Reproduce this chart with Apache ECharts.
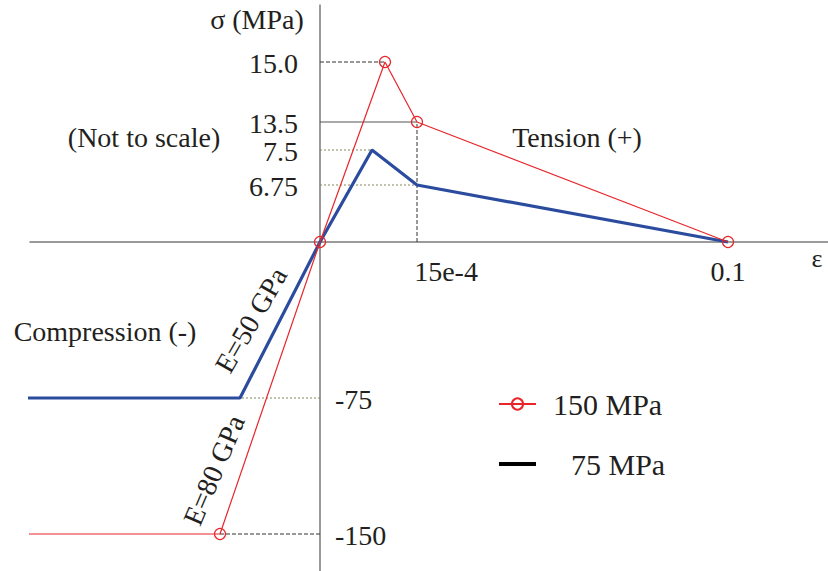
<!DOCTYPE html>
<html>
<head>
<meta charset="utf-8">
<script src="https://cdn.jsdelivr.net/npm/echarts@6/dist/echarts.min.js"></script>
<style>
  html, body { margin: 0; padding: 0; background: #ffffff; }
  #chart { width: 828px; height: 571px; }
</style>
</head>
<body>
<div id="chart"></div>
<script>
// Stress-strain curves (strain, stress in MPa) for two concrete grades
const seriesNames = ['150 MPa', '75 MPa'];
const strain150 = [-0.0035, -1.875e-3, 0, 1.875e-4, 1.5e-3, 0.1];
const stress150 = [-150, -150, 0, 15.0, 13.5, 0];
const strain75 = [-0.0035, -1.5e-3, 0, 1.5e-4, 1.5e-3, 0.1];
const stress75 = [-75, -75, 0, 7.5, 6.75, 0];

// Tick labels
const stressTicks = [15.0, 13.5, 7.5, 6.75, -75, -150];
const stressTickText = ['15.0', '13.5', '7.5', '6.75', '-75', '-150'];
const strainTicks = [15e-4, 0.1];
const strainTickText = ['15e-4', '0.1'];

// The diagram is drawn "not to scale": each axis is a piecewise-linear
// schematic scale defined by breakpoints [real value, schematic unit].
const strainBreaks = [[-0.0035, -297], [-1.875e-3, -100], [0, 0], [1.875e-4, 65], [1.5e-3, 97], [0.1, 408]];
const stressBreaks = [[-150, -292], [-75, -156], [0, 0], [6.75, 57], [7.5, 92], [13.5, 120], [15, 180]];

function schematic(v, breaks) {
  let i = 0;
  while (i < breaks.length - 2 && v > breaks[i + 1][0]) i++;
  const [v0, u0] = breaks[i];
  const [v1, u1] = breaks[i + 1];
  return u0 + (v - v0) * (u1 - u0) / (v1 - v0);
}
const sx = v => schematic(v, strainBreaks);
const sy = v => schematic(v, stressBreaks);
const pt = (e, s) => [sx(e), sy(s)];

const FONT = "'Liberation Serif', 'Times New Roman', serif";
const INK = '#231f20';
const RED = '#e8262a';
const BLUE = '#2b4c9e';

const redData = strain150.map((e, i) => {
  const item = { value: pt(e, stress150[i]) };
  if (i === 0) item.symbol = 'none';
  return item;
});
const blueData = strain75.map((e, i) => pt(e, stress75[i]));

// Dashed reference lines from the stress axis to the key points
const dotted = { color: '#85855c', width: 1, type: [2, 2] };
const darkDash = { color: '#333333', width: 1, type: [4, 2] };
const solidGray = { color: '#555555', width: 1, type: 'solid' };
const guides = [
  { from: [0, stress150[3]], to: [strain150[3], stress150[3]], style: darkDash },
  { from: [0, stress150[4]], to: [strain150[4], stress150[4]], style: solidGray },
  { from: [strain150[4], 0], to: [strain150[4], stress150[4]], style: darkDash },
  { from: [0, stress75[3]], to: [strain75[3], stress75[3]], style: dotted },
  { from: [0, stress75[4]], to: [strain75[4], stress75[4]], style: dotted },
  { from: [0, stress75[1]], to: [strain75[1], stress75[1]], style: dotted },
  { from: [0, stress150[1]], to: [strain150[1], stress150[1]], style: darkDash }
];
const guideSeries = guides.map(g => ({
  type: 'line',
  silent: true,
  symbol: 'none',
  z: 1,
  lineStyle: g.style,
  data: [pt(g.from[0], g.from[1]), pt(g.to[0], g.to[1])]
}));

const tickTextStyle = { fontFamily: FONT, fontSize: 28, color: INK, opacity: 1 };

const stressTickData = stressTicks.map((v, i) => ({
  value: pt(0, v),
  label: Object.assign({
    show: true,
    formatter: stressTickText[i],
    position: v > 0 ? 'left' : 'right',
    distance: v > 0 ? 22 : 15,
    offset: [0, 1]
  }, tickTextStyle)
}));
const strainTickData = strainTicks.map((v, i) => ({
  value: pt(v, 0),
  label: Object.assign({
    show: true,
    formatter: strainTickText[i],
    position: 'bottom',
    distance: 15,
    offset: [i === 0 ? 29 : 0, 0]
  }, tickTextStyle)
}));

const chart = echarts.init(document.getElementById('chart'), null, { renderer: 'svg' });

chart.setOption({
  animation: false,
  backgroundColor: '#ffffff',
  grid: { left: 30, right: 0, top: 5, bottom: 0 },
  xAxis: {
    type: 'value',
    min: -290, max: 508,
    axisLine: { onZero: true, lineStyle: { color: '#7a7a7a', width: 1.5 } },
    axisTick: { show: false },
    axisLabel: { show: false },
    splitLine: { show: false }
  },
  yAxis: {
    type: 'value',
    min: -329, max: 237,
    axisLine: { onZero: true, lineStyle: { color: '#7a7a7a', width: 1.5 } },
    axisTick: { show: false },
    axisLabel: { show: false },
    splitLine: { show: false }
  },
  legend: {
    orient: 'vertical',
    left: 493,
    top: 384,
    itemWidth: 37,
    itemHeight: 14,
    itemGap: 30,
    textStyle: { fontFamily: FONT, fontSize: 30, color: INK, lineHeight: 28, padding: [0, 0, 0, 12] },
    data: [
      { name: seriesNames[0] },
      {
        name: seriesNames[1],
        icon: 'path://M0,0H37V4H0Z',
        itemStyle: { color: '#000000' },
        textStyle: { padding: [0, 0, 0, 30] }
      }
    ]
  },
  series: [
    ...guideSeries,
    {
      name: seriesNames[1],
      type: 'line',
      clip: false,
      z: 3,
      symbol: 'none',
      lineStyle: { color: BLUE, width: 3.2 },
      itemStyle: { color: BLUE },
      data: blueData
    },
    {
      name: seriesNames[0],
      type: 'line',
      clip: false,
      z: 4,
      symbol: 'circle',
      symbolSize: 11,
      lineStyle: { color: RED, width: 1.2 },
      itemStyle: { color: 'rgba(255,255,255,0)', borderColor: RED, borderWidth: 1.2 },
      data: redData
    },
    {
      type: 'scatter',
      silent: true,
      symbolSize: 0,
      itemStyle: { color: INK },
      data: stressTickData.concat(strainTickData)
    }
  ],
  graphic: [
    { type: 'text', x: 257, y: 19, style: { text: 'σ (MPa)', font: '28px ' + FONT, fill: INK, align: 'center', verticalAlign: 'middle' } },
    { type: 'text', x: 817, y: 258, style: { text: 'ε', font: '26px ' + FONT, fill: INK, align: 'center', verticalAlign: 'middle' } },
    { type: 'text', x: 144, y: 137, style: { text: '(Not to scale)', font: '28px ' + FONT, fill: INK, align: 'center', verticalAlign: 'middle' } },
    { type: 'text', x: 577, y: 137, style: { text: 'Tension (+)', font: '28px ' + FONT, fill: INK, align: 'center', verticalAlign: 'middle' } },
    { type: 'text', x: 105, y: 331, style: { text: 'Compression (-)', font: '28px ' + FONT, fill: INK, align: 'center', verticalAlign: 'middle' } },
    { type: 'text', x: 251, y: 320, rotation: 60 * Math.PI / 180, style: { text: 'E=50 GPa', font: '28px ' + FONT, fill: INK, align: 'center', verticalAlign: 'middle' } },
    { type: 'text', x: 214, y: 470, rotation: 67 * Math.PI / 180, style: { text: 'E=80 GPa', font: '28px ' + FONT, fill: INK, align: 'center', verticalAlign: 'middle' } }
  ]
});
</script>
</body>
</html>
